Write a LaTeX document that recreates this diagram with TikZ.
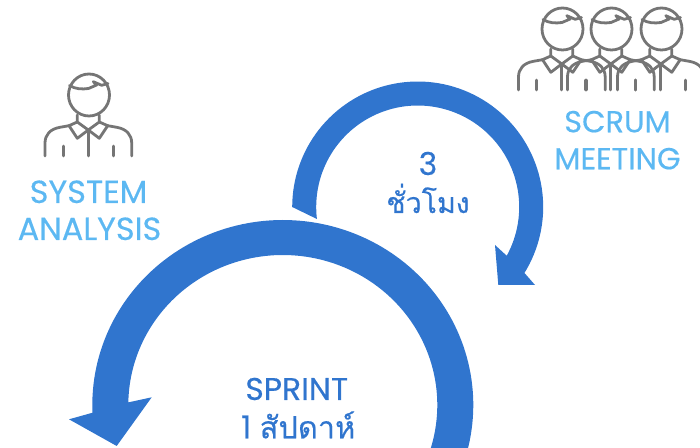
\documentclass[tikz,border=0pt]{standalone}
\usepackage{fontspec}
\setmainfont[FakeBold=0.35]{Poppins}
\newfontfamily\latf[FakeBold=0.35]{Poppins}
\newfontfamily\thaifont[Script=Thai,FakeBold=0.35]{Loma}
\definecolor{darkb}{HTML}{3075CE}
\definecolor{lightb}{HTML}{5CB8F2}
\definecolor{icong}{HTML}{757575}
\tikzset{
  lab/.style={anchor=base,inner sep=0pt,text=lightb,font=\latf\fontsize{24}{24}\selectfont},
  labs/.style={anchor=base,inner sep=0pt,text=lightb,font=\latf\fontsize{22.8}{24}\selectfont},
  labd/.style={anchor=base,inner sep=0pt,text=darkb,font=\latf\fontsize{23.6}{24}\selectfont},
  icon/.style={draw=icong,line width=2.1pt,line cap=round,line join=round},
  person/.pic={
    \draw[icon] (89,95) ellipse[x radius=20.5,y radius=21];
    \draw[icon] (69.5,85.5) .. controls (75,89) and (82,89.5) .. (88.5,88.5) -- (96.7,85) -- (93.3,81.7) -- (101.7,85.3) -- (108,83.5);
    \draw[icon] (77.3,115) -- (77.3,122) -- (88.3,130) -- (99.3,122) -- (99.3,115);
    \draw[icon] (77.3,122) -- (69,125.7) -- (77.3,138.3) -- (88.3,130) -- (99.3,138.3) -- (107.7,125.7) -- (99.3,122);
    \draw[icon] (69,125.7) -- (60,127.3) .. controls (50,129) and (45,135) .. (45,143) -- (45,156);
    \draw[icon] (107.7,125.7) -- (116.7,127.3) .. controls (126.7,129) and (131.7,135) .. (131.7,143) -- (131.7,156);
    \draw[icon] (88.3,130) -- (88.3,156);
    \draw[icon] (63.3,146) -- (63.3,156);
    \draw[icon] (113.3,146) -- (113.3,156);
  }
}
\begin{document}
\begin{tikzpicture}[x=0.75pt,y=-0.75pt]
\useasboundingbox (0,0) rectangle (700,448);
\clip (0,0) rectangle (700,448);
% small arrow
\fill[darkb]
  plot[domain=180:391.7,samples=90] ({417.7+125.5*cos(\x)},{207+125.5*sin(\x)})
  -- (535,285) -- (498.3,285) -- (495,245)
  -- plot[domain=388.7:173.2,samples=90] ({417.7+101.5*cos(\x)},{207+101.5*sin(\x)})
  -- cycle;
% big arrow
\fill[darkb]
  plot[domain=25:-182.4,samples=120] ({282.8+190.5*cos(\x)},{405+185*sin(\x)})
  -- (69,419.3) -- (116.7,446) -- (151.7,397.3)
  -- plot[domain=-179:25,samples=120] ({282.8+154.5*cos(\x)},{405+150*sin(\x)})
  -- cycle;
% people
\pic at (0,0) {person};
\pic at (473.5,-66) {person};
\pic at (522.5,-66) {person};
\pic at (572.5,-66) {person};
% labels
\node[lab] (sys1) at (88.5,203) {SYSTEM};
\node[lab] (sys2) at (89.5,240) {ANALYSIS};
\node[labs] (scr1) at (617.5,132.3) {SCRUM};
\node[labs] (scr2) at (617.5,169.3) {MEETING};
\node[labd] (three) at (428,175) {3};
\node[labd] (hour) at (428,213) {\fontsize{21.4}{24}\thaifont ชั่วโมง};
\node[labd] (spr1) at (296.7,400) {SPRINT};
\node[labd] (spr2) at (298.3,438.3) {\smash{1 {\fontsize{23}{24}\thaifont สัปดาห์}}};
\end{tikzpicture}
\end{document}
